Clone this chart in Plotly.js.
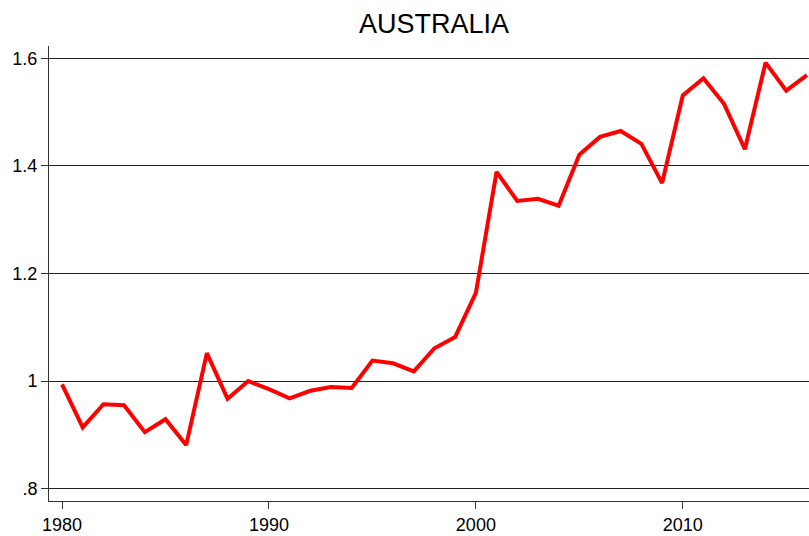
<!DOCTYPE html>
<html>
<head>
<meta charset="utf-8">
<script src="https://cdn.plot.ly/plotly-3.0.1.min.js"></script>
<style>html,body{margin:0;padding:0;background:#fff;}#chart{width:809px;height:536px;}</style>
</head>
<body>
<div id="chart"></div>
<script>
const years = [1980,1981,1982,1983,1984,1985,1986,1987,1988,1989,1990,1991,1992,1993,1994,1995,1996,1997,1998,1999,2000,2001,2002,2003,2004,2005,2006,2007,2008,2009,2010,2011,2012,2013,2014,2015,2016];
const values = [0.994,0.914,0.957,0.955,0.905,0.929,0.881,1.052,0.967,1.000,0.985,0.968,0.982,0.989,0.987,1.038,1.033,1.018,1.061,1.082,1.164,1.389,1.335,1.339,1.326,1.421,1.454,1.465,1.441,1.368,1.531,1.563,1.515,1.431,1.592,1.540,1.569];
const yTickVals = [0.8,1.0,1.2,1.4,1.6];
const yTickText = [".8","1","1.2","1.4","1.6"];
const xTickVals = [1980,1990,2000,2010];
const titleText = "AUSTRALIA";

const trace = {
  x: years, y: values, type: 'scatter', mode: 'lines',
  line: {color: '#ff0000', width: 4}, hoverinfo: 'skip'
};
const layout = {
  width: 809, height: 536,
  margin: {l: 49, r: 0, t: 46, b: 35, pad: 0},
  paper_bgcolor: '#fff', plot_bgcolor: '#fff',
  font: {family: 'Liberation Sans, Arial, Helvetica, sans-serif', color: '#000', size: 18},
  title: {text: titleText, x: 0.5365, xanchor: 'center', y: 0.956, yanchor: 'middle', font: {size: 27, color: '#000'}},
  showlegend: false,
  xaxis: {
    range: [1979.37, 2016.1], tickvals: xTickVals, ticks: 'outside', ticklen: 7, tickwidth: 1, tickcolor: '#333',
    showline: true, linecolor: '#333', linewidth: 1, showgrid: false, zeroline: false,
    tickfont: {size: 18, color: '#000'}
  },
  yaxis: {
    range: [0.777, 1.623], tickvals: yTickVals, ticktext: yTickText, ticks: 'outside', ticklen: 7, tickwidth: 1, tickcolor: '#333',
    showline: true, linecolor: '#333', linewidth: 1, showgrid: true, gridcolor: '#222', gridwidth: 1, zeroline: false,
    tickfont: {size: 18, color: '#000'}
  }
};
Plotly.newPlot('chart', [trace], layout, {staticPlot: true, displayModeBar: false});
</script>
</body>
</html>
